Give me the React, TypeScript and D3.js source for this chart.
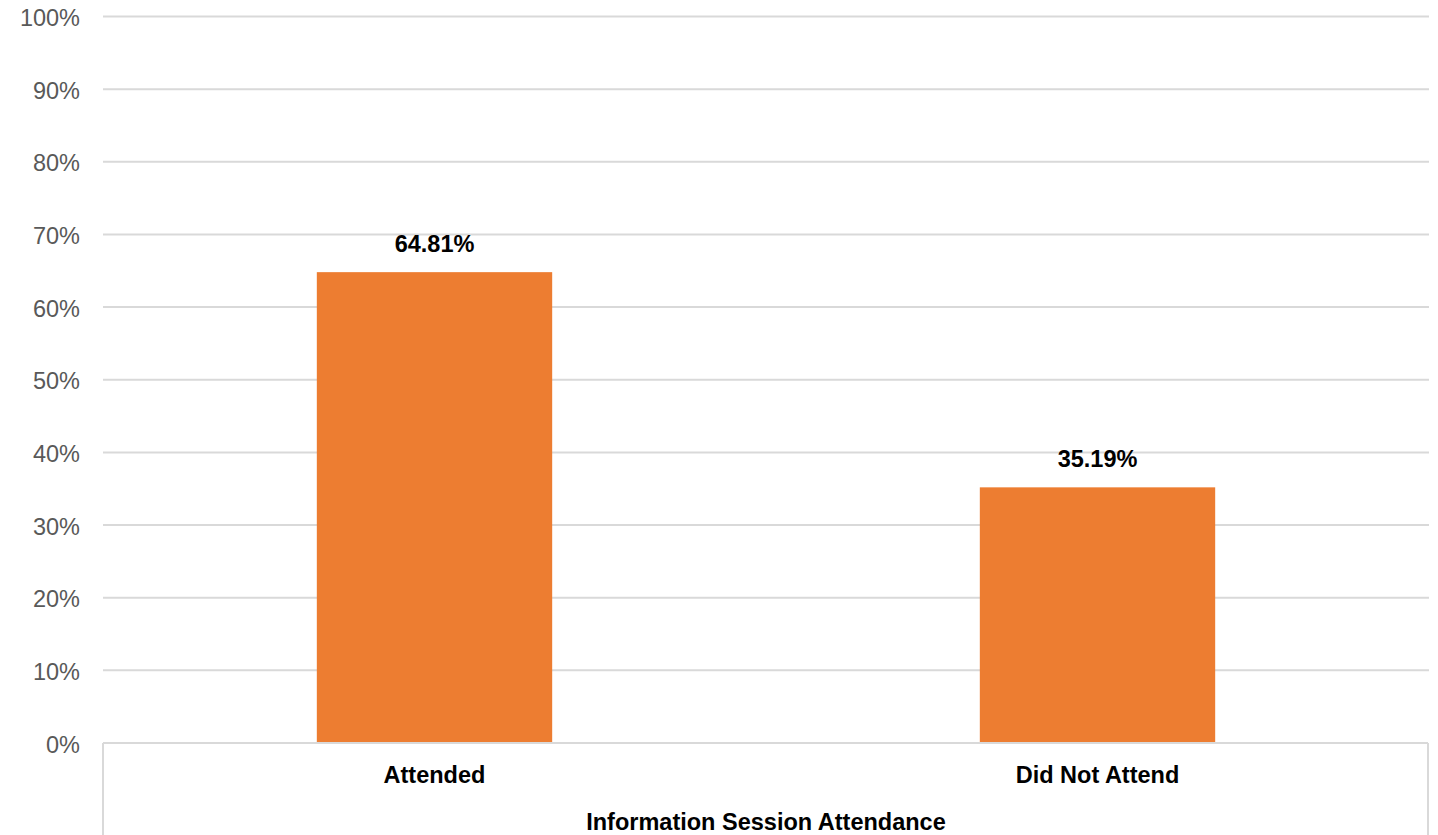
import React from "react";
import * as d3 from "d3";

const categories = ["Attended", "Did Not Attend"];
const values = [64.81, 35.19];
const yTicks = [0, 10, 20, 30, 40, 50, 60, 70, 80, 90, 100];
const axisTitle = "Information Session Attendance";

const W = 1438;
const H = 835;
const FONT = "'Liberation Sans', Arial, Helvetica, sans-serif";

export default function App() {
  const left = 103;
  const right = 1429;
  const y0 = 743;
  const y1 = 16.5;

  const x = d3
    .scaleBand<string>()
    .domain(categories)
    .range([left, right])
    .paddingInner(0.645)
    .paddingOuter(0.3225);
  const y = d3.scaleLinear().domain([0, 100]).range([y0, y1]);
  const step = x.step();

  return (
    <svg
      width={W}
      height={H}
      style={{ position: "absolute", left: 0, top: 0, display: "block", background: "#fff" }}
      fontFamily={FONT}
    >
      {/* gridlines and value axis labels */}
      {yTicks.map((t) => (
        <g key={t}>
          {t !== 0 && (
            <line x1={left} x2={right} y1={y(t)} y2={y(t)} stroke="#d9d9d9" strokeWidth={2} />
          )}
          <text x={80} y={y(t) + 9.5} textAnchor="end" fontSize={23.5} fill="#595959">
            {t}%
          </text>
        </g>
      ))}

      {/* bars */}
      {categories.map((c, i) => (
        <g key={c}>
          <rect
            x={x(c)}
            y={y(values[i])}
            width={x.bandwidth()}
            height={y0 - y(values[i])}
            fill="#ED7D31"
          />
          <text
            x={(x(c) as number) + x.bandwidth() / 2}
            y={y(values[i]) - 20.5}
            textAnchor="middle"
            fontSize={23.5}
            fontWeight="bold"
            fill="#000"
          >
            {values[i].toFixed(2)}%
          </text>
        </g>
      ))}

      {/* category axis box */}
      <line x1={left} x2={right - 1} y1={y0} y2={y0} stroke="#d9d9d9" strokeWidth={2} />
      <line x1={left} x2={left} y1={y0} y2={H} stroke="#d9d9d9" strokeWidth={2} />
      <line x1={right - 1} x2={right - 1} y1={y0} y2={H} stroke="#d9d9d9" strokeWidth={2} />

      {categories.map((c) => (
        <text
          key={c}
          x={(x(c) as number) + x.bandwidth() / 2}
          y={782.5}
          textAnchor="middle"
          fontSize={23.5}
          fontWeight="bold"
          fill="#000"
        >
          {c}
        </text>
      ))}
      <text
        x={left + step}
        y={830}
        textAnchor="middle"
        fontSize={23.5}
        fontWeight="bold"
        fill="#000"
      >
        {axisTitle}
      </text>
    </svg>
  );
}
